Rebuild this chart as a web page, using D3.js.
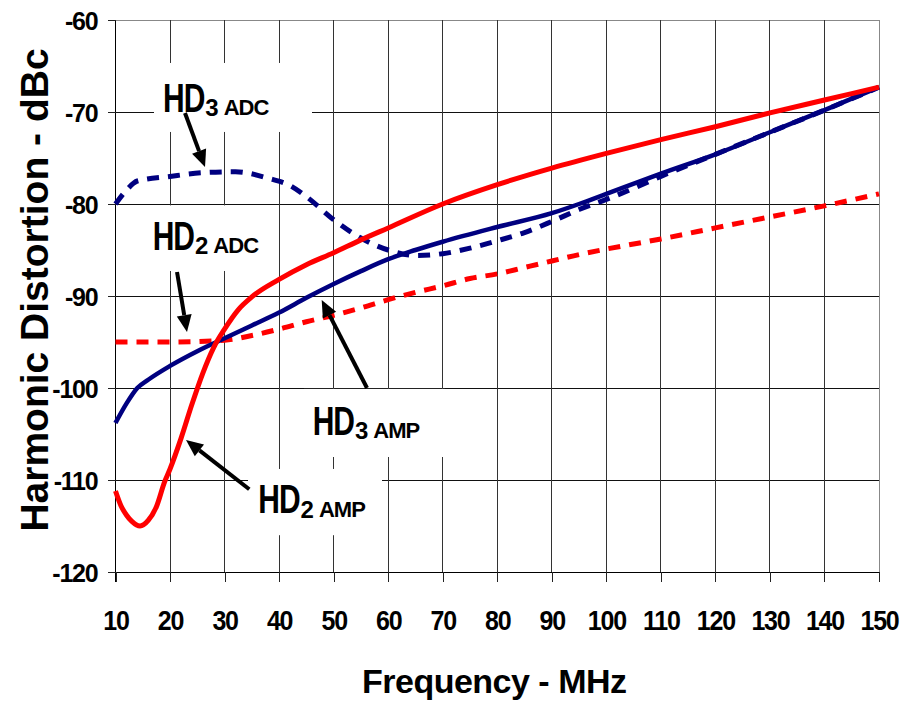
<!DOCTYPE html>
<html>
<head>
<meta charset="utf-8">
<script src="https://cdn.jsdelivr.net/npm/d3@7"></script>
<style>
  body { margin: 0; background: #fff; }
  svg { font-family: "Liberation Sans", Arial, sans-serif; }
</style>
</head>
<body>
<svg id="chart"></svg>
<script>
// Frequency sample points (MHz) and distortion values (dBc) for each curve
const hd2AmpFreq = [10, 11, 12, 13, 14.5, 16, 17.5, 19, 20, 22, 24, 26, 28, 30, 32.5, 35, 40, 45, 50, 55, 60, 70, 80, 90, 100, 110, 120, 130, 140, 150];
const hd2AmpVals = [-111.2, -112.8, -113.8, -114.5, -115, -114.4, -112.9, -110.2, -108.8, -105.5, -101.8, -98.4, -95.6, -93.6, -91.5, -90.1, -88.2, -86.6, -85.3, -83.9, -82.6, -80.0, -77.9, -76.1, -74.5, -73.0, -71.6, -70.1, -68.7, -67.3];

const hd3AmpFreq = [10, 12, 14, 16, 20, 25, 30, 35, 40, 45, 50, 55, 60, 65, 70, 80, 90, 95, 100, 110, 120, 130, 140, 150];
const hd3AmpVals = [-103.8, -101.7, -100.0, -99.1, -97.6, -96.0, -94.6, -93.2, -91.8, -90.2, -88.7, -87.3, -86.0, -85.0, -84.1, -82.5, -81.0, -80.0, -78.9, -76.7, -74.6, -72.2, -69.8, -67.3];

const hd3AdcFreq = [10, 12, 14, 20, 26, 32, 38, 42, 45, 50, 55, 60, 65, 70, 75, 80, 85, 90, 95, 100, 105, 110, 120, 130, 140, 150];
const hd3AdcVals = [-80.0, -78.5, -77.5, -77.0, -76.6, -76.5, -77.2, -78.0, -79.2, -81.7, -83.7, -85.0, -85.6, -85.4, -84.8, -84.0, -83.1, -81.9, -80.6, -79.5, -78.3, -77.0, -74.6, -72.2, -69.8, -67.3];

const hd2AdcFreq = [10, 20, 30, 35, 40, 45, 50, 55, 60, 65, 70, 75, 80, 85, 90, 95, 100, 110, 120, 130, 140, 150];
const hd2AdcVals = [-95.0, -95.0, -94.8, -94.3, -93.6, -92.8, -92.1, -91.3, -90.4, -89.6, -88.9, -88.1, -87.6, -86.9, -86.2, -85.5, -84.9, -83.8, -82.6, -81.4, -80.2, -78.9];

const xTicks = [10, 20, 30, 40, 50, 60, 70, 80, 90, 100, 110, 120, 130, 140, 150];
const yTicks = [-120, -110, -100, -90, -80, -70, -60];

// Annotation labels (in data units): text, white box behind, arrow
const labelSubs = ["3", "2", "3", "2"];
const labelTags = ["ADC", "ADC", "AMP", "AMP"];
const labelAt = [[18.71, -69.97], [16.82, -85.0], [46.16, -105.1], [36.18, -113.62]];
const labelBoxes = [[17.06, 46.03, -64.67, -72.17], [13, 38.7, -80.15, -87.28], [44.56, 70.42, -100.1, -107.5], [34.3, 58.87, -108.8, -116.0]];
const arrowFrom = [[22.74, -70.11], [21.28, -87.39], [56.12, -100.0], [34.53, -111.01]];
const arrowTo = [[26.41, -75.98], [23.11, -93.91], [47.81, -90.43], [22.93, -105.65]];

const margin = { top: 20, right: 32, bottom: 130, left: 115.5 };
const width = 911 - margin.left - margin.right;
const height = 702 - margin.top - margin.bottom;

const svg = d3.select("#chart")
  .attr("width", 911)
  .attr("height", 702)
  .append("g")
  .attr("transform", `translate(${margin.left},${margin.top})`);

const x = d3.scaleLinear().domain([10, 150]).range([0, width]);
const y = d3.scaleLinear().domain([-120, -60]).range([height, 0]);

// Grid lines
svg.append("g")
  .selectAll("line")
  .data(yTicks.filter(d => d !== -120))
  .enter().append("line")
  .attr("x1", 0).attr("x2", width)
  .attr("y1", d => y(d)).attr("y2", d => y(d))
  .attr("stroke", d => d === -60 ? "#888" : "#111")
  .attr("stroke-width", 1)
  .attr("shape-rendering", "crispEdges");

svg.append("g")
  .selectAll("line")
  .data(xTicks.filter(d => d !== 10))
  .enter().append("line")
  .attr("x1", d => x(d)).attr("x2", d => x(d))
  .attr("y1", 0).attr("y2", height)
  .attr("stroke", d => d === 150 ? "#888" : "#333")
  .attr("stroke-width", 1)
  .attr("shape-rendering", "crispEdges");

// White boxes behind the labels (cut the grid)
svg.append("g")
  .selectAll("rect")
  .data(labelBoxes)
  .enter().append("rect")
  .attr("x", d => x(d[0]))
  .attr("width", d => x(d[1]) - x(d[0]))
  .attr("y", d => y(d[2]))
  .attr("height", d => y(d[3]) - y(d[2]))
  .attr("fill", "#fff");

// Axes
const xAxis = svg.append("g")
  .attr("transform", `translate(0,${height})`)
  .call(d3.axisBottom(x).tickValues(xTicks).tickFormat(d => String(d)).tickSize(10).tickSizeOuter(0));
const yAxis = svg.append("g")
  .call(d3.axisLeft(y).tickValues(yTicks).tickFormat(d => String(d)).tickSize(8).tickSizeOuter(0).tickPadding(10));

[xAxis, yAxis].forEach(a => {
  a.select(".domain").attr("stroke", "#000").attr("stroke-width", 1).attr("shape-rendering", "crispEdges");
  a.selectAll(".tick line").attr("stroke", "#222").attr("shape-rendering", "crispEdges");
  a.selectAll(".tick text")
    .attr("fill", "#000")
    .style("font-family", "'Liberation Sans', Arial, sans-serif")
    .style("font-weight", "bold")
    .attr("letter-spacing", "-1.2");
});
yAxis.select(".domain").attr("d", `M0,${height + 10}V0`);
yAxis.selectAll(".tick text")
  .style("font-size", "25px")
  .attr("dy", "0.36em");
// x tick labels are slightly stretched vertically, baseline ~58px below the axis
xAxis.selectAll(".tick text")
  .style("font-size", "25px")
  .attr("y", 58 / 1.14)
  .attr("dy", 0)
  .attr("transform", "scale(1,1.14)");

// Curves
const line = d3.line()
  .x(d => x(d[0]))
  .y(d => y(d[1]))
  .curve(d3.curveMonotoneX);

const series = [
  { f: hd2AdcFreq, v: hd2AdcVals, color: "#ff0000", w: 5, dash: "12,9" },
  { f: hd3AdcFreq, v: hd3AdcVals, color: "#000080", w: 5, dash: "12,9" },
  { f: hd3AmpFreq, v: hd3AmpVals, color: "#000080", w: 4.5, dash: null },
  { f: hd2AmpFreq, v: hd2AmpVals, color: "#ff0000", w: 5, dash: null }
];

series.forEach(s => {
  svg.append("path")
    .datum(d3.zip(s.f, s.v))
    .attr("fill", "none")
    .attr("stroke", s.color)
    .attr("stroke-width", s.w)
    .attr("stroke-dasharray", s.dash)
    .attr("d", line);
});

// Arrows
arrowFrom.forEach((a, i) => {
  const x1 = x(a[0]), y1 = y(a[1]);
  const x2 = x(arrowTo[i][0]), y2 = y(arrowTo[i][1]);
  const ang = Math.atan2(y2 - y1, x2 - x1);
  const L = 17, W = 7.5;
  const bx = x2 - L * Math.cos(ang), by = y2 - L * Math.sin(ang);
  svg.append("line")
    .attr("x1", x1).attr("y1", y1).attr("x2", bx).attr("y2", by)
    .attr("stroke", "#000").attr("stroke-width", 4);
  svg.append("polygon")
    .attr("points", [[x2, y2], [bx - W * Math.sin(ang), by + W * Math.cos(ang)], [bx + W * Math.sin(ang), by - W * Math.cos(ang)]].map(p => p.join(",")).join(" "))
    .attr("fill", "#000");
});

// Label texts: big "HD", subscript number and tag
labelAt.forEach((p, i) => {
  const g = svg.append("g").attr("transform", `translate(${x(p[0])},${y(p[1])})`);
  const hd = g.append("text")
    .attr("transform", "scale(1,1.35)")
    .style("font-size", "30px")
    .style("font-weight", "bold")
    .attr("letter-spacing", "-1")
    .text("HD");
  const w1 = hd.node().getComputedTextLength();
  const sub = g.append("text")
    .attr("x", w1 + 1).attr("y", 4.3)
    .style("font-size", "24px")
    .style("font-weight", "bold")
    .attr("letter-spacing", "-1")
    .text(labelSubs[i]);
  const w2 = sub.node().getComputedTextLength();
  g.append("text")
    .attr("x", w1 + w2 + 7).attr("y", 3.3)
    .style("font-size", "22px")
    .style("font-weight", "bold")
    .attr("letter-spacing", "-1")
    .text(labelTags[i]);
});

// Axis titles
svg.append("text")
  .attr("x", width / 2 - 3)
  .attr("y", height + 121)
  .attr("text-anchor", "middle")
  .style("font-size", "34px")
  .style("font-weight", "bold")
  .attr("letter-spacing", "-0.5")
  .text("Frequency - MHz");

svg.append("text")
  .attr("transform", `translate(${48 - margin.left},${290 - margin.top}) rotate(-90)`)
  .attr("text-anchor", "middle")
  .style("font-size", "39px")
  .style("font-weight", "bold")
  .text("Harmonic Distortion - dBc");
</script>
</body>
</html>
